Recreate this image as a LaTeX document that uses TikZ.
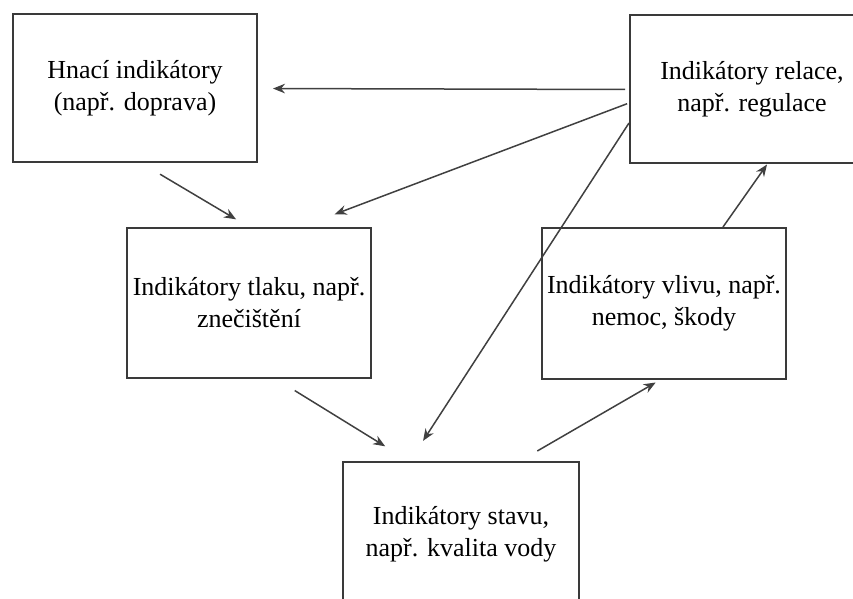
\documentclass[tikz,border=0pt]{standalone}
\usepackage{fontspec}
\setmainfont{Liberation Serif}
\usetikzlibrary{arrows.meta,positioning,calc}
\definecolor{Frame}{RGB}{58,58,58}
\definecolor{Link}{RGB}{64,64,64}

\begin{document}
\begin{tikzpicture}[
    x=0.5pt, y=-0.5pt,
    box/.style={draw=Frame, line width=1pt, fill=white, align=center,
      minimum width=122pt, minimum height=74pt, inner sep=0pt,
      font=\fontsize{13}{16}\selectfont},
    arr/.style={-{Stealth[length=6pt,width=4.8pt]}, line width=0.75pt, draw=Link}
  ]
    \useasboundingbox (0,0) rectangle (853,599);
    \clip (0,0) rectangle (853,599);
    \node[box] (hnaci) at (135,88.5) {Hnací indikátory\\(např. doprava)};
    \node[box] (relace) at (752,89.5) {Indikátory relace,\\např. regulace};
    \node[box, minimum height=75pt] (tlak) at (249,303) {Indikátory tlaku, např.\\znečištění};
    \node[box, minimum height=75.5pt] (vliv) at (664,303.5) {Indikátory vlivu, např.\\nemoc, škody};
    \node[box, minimum width=118pt, minimum height=72.5pt] (stav) at (461,534.5) {Indikátory stavu,\\např. kvalita vody};
    \draw[arr, shorten <=2pt, shorten >=7.5pt] (relace.west) -- (hnaci.east);
    \draw[arr, shorten <=10.5pt, shorten >=7.5pt] ($(hnaci.south)+(7,0)$) -- (tlak.north);
    \draw[arr, shorten <=1pt, shorten >=18pt] ($(relace.west)+(0,13.5)$) -- ($(tlak.north)+(52,0)$);
    \draw[arr, shorten <=0pt, shorten >=12pt] ($(relace.west)+(0,33.5)$) -- ($(stav.north)+(-51,0)$);
    \draw[arr, shorten <=11pt, shorten >=14pt] ($(tlak.south)+(27,0)$) -- ($(stav.north)+(-52,0)$);
    \draw[arr, shorten <=10pt, shorten >=2.5pt] ($(stav.north)+(59,0)$) -- ($(vliv.south)+(-4,0)$);
    \draw[arr] ($(vliv.north)+(59,0)$) -- ($(relace.south)+(15,0)$);
  \end{tikzpicture}
\end{document}
